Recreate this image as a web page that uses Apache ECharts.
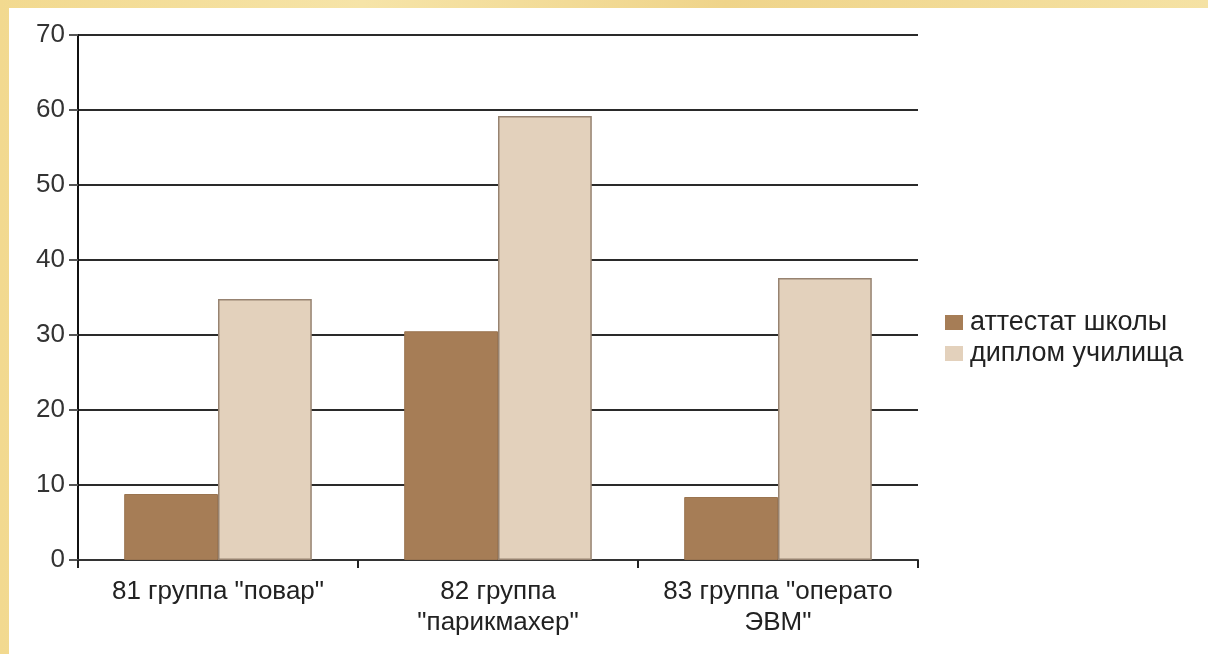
<!DOCTYPE html>
<html>
<head>
<meta charset="utf-8">
<script src="https://cdn.jsdelivr.net/npm/echarts@6/dist/echarts.min.js"></script>
<style>
html,body{margin:0;padding:0;width:1208px;height:654px;overflow:hidden;
background:linear-gradient(90deg,#f2d98f,#f6e4a8 30%,#efd48a 60%,#f5e2a4);}
#chart{position:absolute;left:9px;top:8px;width:1199px;height:646px;background:#fff;}
</style>
</head>
<body>
<div id="chart"></div>
<script>
const categories = ['81 группа "повар"', '82 группа\n"парикмахер"', '83 группа "операто\nЭВМ"'];
const seriesNames = ['аттестат школы', 'диплом училища'];
const schoolValues = [8.8, 30.5, 8.4];
const diplomaValues = [34.8, 59.2, 37.6];
const yTicks = [0, 10, 20, 30, 40, 50, 60, 70];

const FONT = 'Liberation Sans, Arial';
const chart = echarts.init(document.getElementById('chart'));
chart.setOption({
  animation: false,
  backgroundColor: '#ffffff',
  grid: {left: 69, top: 27, right: 290, bottom: 94, containLabel: false},
  legend: {
    orient: 'vertical', left: 931, top: 296,
    itemWidth: 18, itemHeight: 15, itemGap: 4,
    icon: 'rect',
    itemStyle: {borderWidth: 0},
    textStyle: {fontFamily: FONT, fontSize: 27, lineHeight: 26, color: '#222', padding: [0,0,0,2]},
    data: seriesNames
  },
  xAxis: {
    type: 'category', data: categories,
    axisLine: {lineStyle: {color: '#333', width: 2}},
    axisTick: {show: true, length: 8, lineStyle: {color: '#222', width: 2}},
    axisLabel: {fontFamily: FONT, fontSize: 26, color: '#222', lineHeight: 31, margin: 16, interval: 0}
  },
  yAxis: {
    type: 'value', min: 0, max: 70, interval: 10,
    axisLine: {show: true, lineStyle: {color: '#111', width: 2}},
    axisTick: {show: true, length: 9, lineStyle: {color: '#555', width: 2}},
    axisLabel: {fontFamily: FONT, fontSize: 26, color: '#333', margin: 13,
      formatter: v => yTicks.includes(v) ? String(v) : ''},
    splitLine: {show: true, lineStyle: {color: '#2a2a2a', width: 2}}
  },
  series: [
    {name: seriesNames[0], type: 'bar', data: schoolValues, barGap: '0%', barCategoryGap: '33%',
     itemStyle: {color: '#a67d56', borderColor: '#9a7450', borderWidth: 1}},
    {name: seriesNames[1], type: 'bar', data: diplomaValues,
     itemStyle: {color: '#e3d1bc', borderColor: '#978371', borderWidth: 1.5}}
  ]
});
</script>
</body>
</html>
